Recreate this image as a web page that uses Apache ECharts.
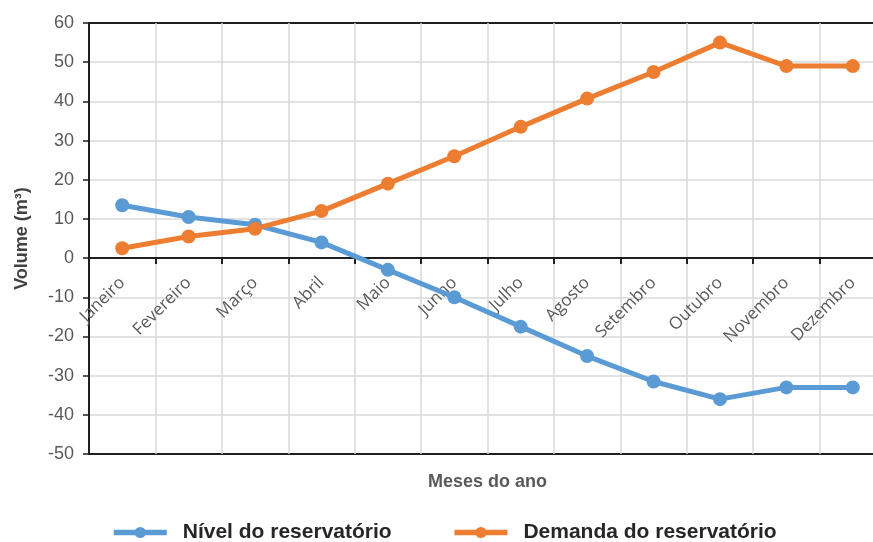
<!DOCTYPE html>
<html>
<head>
<meta charset="utf-8">
<script src="https://cdn.jsdelivr.net/npm/echarts@6/dist/echarts.min.js"></script>
<style>
  html, body { margin: 0; padding: 0; background: #fff; }
  #chart { width: 873px; height: 542px; }
</style>
</head>
<body>
<div id="chart"></div>
<script>
// Months of the year (x categories)
const meses = ['Janeiro', 'Fevereiro', 'Março', 'Abril', 'Maio', 'Junho',
               'Julho', 'Agosto', 'Setembro', 'Outubro', 'Novembro', 'Dezembro'];

// Reservoir level (m³)
const nivel = [13.5, 10.5, 8.5, 4, -3, -10, -17.5, -25, -31.5, -36, -33, -33];

// Reservoir demand (m³)
const demanda = [2.5, 5.5, 7.5, 12, 19, 26, 33.5, 40.7, 47.5, 55, 49, 49];

const serieNomes = ['Nível do reservatório', 'Demanda do reservatório'];
const volumeTicks = { min: -50, max: 60, step: 10 };

const chart = echarts.init(document.getElementById('chart'));

const labelFont = 'Arial, "Liberation Sans", sans-serif';

// Plot box geometry; the category axis sits on the zero line of the value axis
const gridTop = 23, gridBottom = 88, chartH = 542;
const plotH = chartH - gridTop - gridBottom;
const zeroOffset = plotH * (0 - volumeTicks.min) / (volumeTicks.max - volumeTicks.min);

chart.setOption({
  animation: false,
  backgroundColor: '#ffffff',
  grid: {
    left: 89, right: -13, top: gridTop, bottom: gridBottom,
    show: true, borderColor: '#1f1f1f', borderWidth: 2,
    containLabel: false,
    outerBoundsMode: 'none'
  },
  legend: {
    left: 106, top: 517,
    itemWidth: 53, itemHeight: 14, itemGap: 60,
    lineStyle: { width: 5.5 },
    textStyle: { fontFamily: labelFont, fontWeight: 'bold', fontSize: 21, color: '#262626', padding: [0, 0, 0, 11] },
    data: serieNomes
  },
  xAxis: {
    type: 'category',
    data: meses,
    boundaryGap: true,
    offset: -zeroOffset,
    name: 'Meses do ano',
    nameLocation: 'middle',
    nameGap: 215,
    nameTextStyle: { fontFamily: labelFont, fontWeight: 'bold', fontSize: 18, color: '#595959' },
    axisLine: { onZero: false, lineStyle: { color: '#1f1f1f', width: 2 } },
    axisTick: { show: true, alignWithLabel: false, length: 6, lineStyle: { color: '#1f1f1f', width: 2 } },
    axisLabel: {
      rotate: 45, margin: 22, interval: 0,
      fontFamily: '"Open Sans", sans-serif', fontSize: 17, color: '#595959'
    },
    splitLine: { show: true, lineStyle: { color: '#d9d9d9', width: 1.5 } }
  },
  yAxis: {
    type: 'value',
    min: volumeTicks.min, max: volumeTicks.max, interval: volumeTicks.step,
    name: 'Volume (m³)',
    nameLocation: 'middle',
    nameGap: 58,
    nameRotate: 90,
    nameTextStyle: { fontFamily: labelFont, fontWeight: 'bold', fontSize: 18, color: '#404040' },
    axisLine: { show: true, lineStyle: { color: '#1f1f1f', width: 2 } },
    axisTick: { show: true, length: 6, lineStyle: { color: '#1f1f1f', width: 1.5 } },
    axisLabel: { margin: 15, fontFamily: labelFont, fontSize: 18, color: '#595959' },
    splitLine: {
      show: true, showMinLine: false, showMaxLine: false,
      lineStyle: { color: '#d9d9d9', width: 1.5 }
    }
  },
  series: [
    {
      name: serieNomes[0],
      type: 'line',
      data: nivel,
      symbol: 'circle',
      symbolSize: 14,
      color: '#5b9bd5',
      lineStyle: { width: 5, color: '#5b9bd5' },
      itemStyle: { color: '#5b9bd5' }
    },
    {
      name: serieNomes[1],
      type: 'line',
      data: demanda,
      symbol: 'circle',
      symbolSize: 14,
      color: '#ed7d31',
      lineStyle: { width: 5, color: '#ed7d31' },
      itemStyle: { color: '#ed7d31' }
    }
  ]
});
</script>
</body>
</html>
